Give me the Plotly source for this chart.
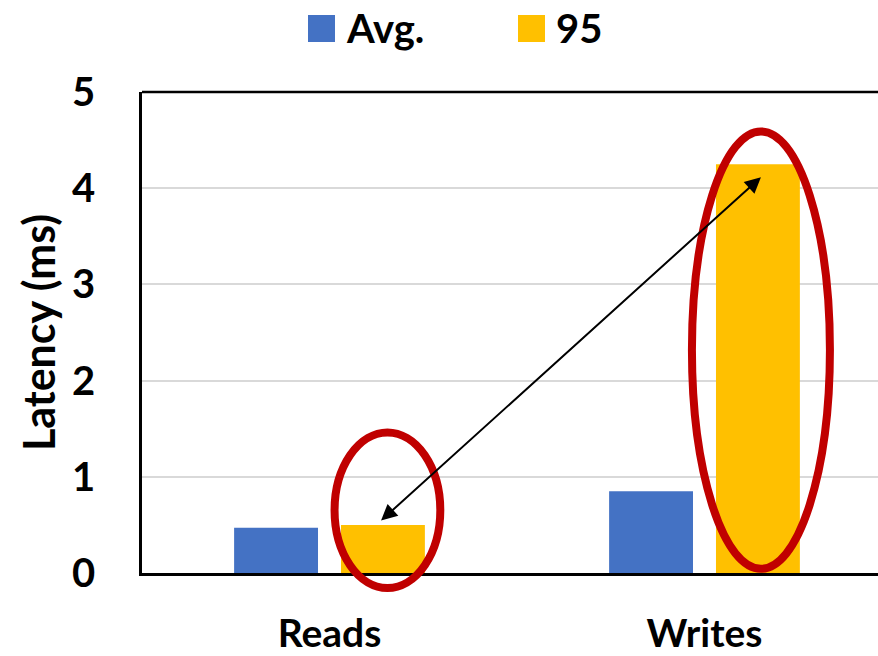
import plotly.graph_objects as go

# ---- data -----------------------------------------------------------------
categories = ["Reads", "Writes"]
series_names = ["Avg.", "95"]
avg_latency = [0.47, 0.85]
p95_latency = [0.50, 4.25]
y_ticks = [0, 1, 2, 3, 4, 5]

# ---- styling --------------------------------------------------------------
BLUE = "#4472C4"
GOLD = "#FFC000"
RED = "#C00000"
GRID = "#D9D9D9"
FONT = "Lato"

W, H = 878, 656
M_L, M_R, M_T, M_B = 142, 0, 92, 83
X_RANGE = [-0.5, 1.4627]
Y_RANGE = [0, 5]
BARGAP = 0.43
GROUPGAP = 0.215

plot_w = W - M_L - M_R
plot_h = H - M_T - M_B


def px_to_paper_x(px):
    return (px - M_L) / plot_w


def px_to_paper_y(py):
    return (H - M_B - py) / plot_h


def data_to_paper_x(x):
    return (x - X_RANGE[0]) / (X_RANGE[1] - X_RANGE[0])


def data_to_paper_y(y):
    return (y - Y_RANGE[0]) / (Y_RANGE[1] - Y_RANGE[0])


# centre offset of each series within its category group
slot = (1 - BARGAP) / 2
offset_95 = slot / 2

fig = go.Figure()
fig.add_trace(go.Bar(x=categories, y=avg_latency, name=series_names[0],
                     marker=dict(color=BLUE, line=dict(width=0)), showlegend=False))
fig.add_trace(go.Bar(x=categories, y=p95_latency, name=series_names[1],
                     marker=dict(color=GOLD, line=dict(width=0)), showlegend=False))

shapes = []
annotations = []

# red ellipses around the 95th-percentile bars
ellipses = [
    # (category index, centre shift, half width, y below 0 / above bar)
    (0, 0.012, 0.141, -0.156, p95_latency[0] + 0.96),
    (1, 0.008, 0.184, 0.044, p95_latency[1] + 0.34),
]
for idx, shift, hw, y_lo, y_hi in ellipses:
    cx = idx + offset_95 + shift
    shapes.append(dict(
        type="circle", xref="paper", yref="paper",
        x0=data_to_paper_x(cx - hw), x1=data_to_paper_x(cx + hw),
        y0=data_to_paper_y(y_lo), y1=data_to_paper_y(y_hi),
        line=dict(color=RED, width=8), fillcolor="rgba(0,0,0,0)", layer="above",
    ))

# double-headed arrow linking the two percentiles
annotations.append(dict(
    x=1 + offset_95 + 0.008, y=p95_latency[1] - 0.135, xref="x", yref="y",
    ax=0 + offset_95 - 0.009, ay=p95_latency[0] + 0.031, axref="x", ayref="y",
    text="", showarrow=True, arrowhead=2, startarrowhead=2,
    arrowside="end+start", arrowsize=1.6, startarrowsize=1.6,
    arrowwidth=2, arrowcolor="black",
))

# legend drawn as swatches + labels above the plot
legend_items = [(series_names[0], BLUE, 308), (series_names[1], GOLD, 518)]
sw = 27
for name, col, x_left in legend_items:
    shapes.append(dict(
        type="rect", xref="paper", yref="paper",
        x0=px_to_paper_x(x_left), x1=px_to_paper_x(x_left + sw),
        y0=px_to_paper_y(42), y1=px_to_paper_y(15),
        fillcolor=col, line=dict(width=0),
    ))
    annotations.append(dict(
        x=px_to_paper_x(x_left + sw + 9), y=px_to_paper_y(28.5),
        xref="paper", yref="paper", xanchor="left", yanchor="middle",
        text=name, showarrow=False,
        font=dict(family=FONT, size=40, color="black", weight="bold"),
    ))

# top border of the plot frame
shapes.append(dict(type="line", xref="paper", yref="paper",
                   x0=0, x1=1, y0=1, y1=1, line=dict(color="black", width=2.5)))

fig.update_layout(
    width=W, height=H,
    margin=dict(l=M_L, r=M_R, t=M_T, b=M_B),
    paper_bgcolor="white", plot_bgcolor="white",
    barmode="group", bargap=BARGAP, bargroupgap=GROUPGAP,
    shapes=shapes, annotations=annotations,
    showlegend=False,
    xaxis=dict(
        range=X_RANGE, showgrid=False, showline=True, linecolor="black",
        linewidth=2.5, ticks="", ticklabelstandoff=24, automargin=False,
        tickfont=dict(family=FONT, size=39, color="black", weight="bold"),
    ),
    yaxis=dict(
        range=Y_RANGE, tickvals=y_ticks, showgrid=True, gridcolor=GRID,
        gridwidth=2, zeroline=False, showline=True, linecolor="black",
        linewidth=2.5, ticks="", ticklabelstandoff=36, automargin=False,
        tickfont=dict(family=FONT, size=40, color="black", weight="bold"),
        title=dict(text="Latency (ms)", standoff=3,
                   font=dict(family=FONT, size=43, color="black", weight="bold")),
    ),
)

fig.write_html("out.html")
